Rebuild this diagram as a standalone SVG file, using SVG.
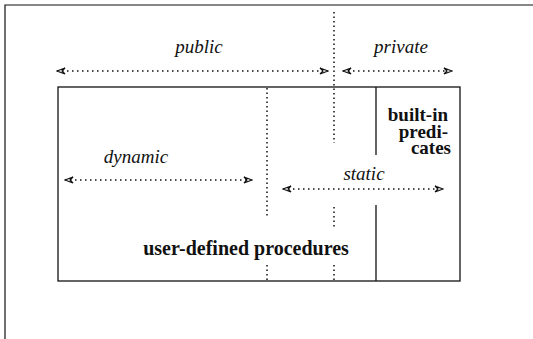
<svg xmlns="http://www.w3.org/2000/svg" width="533" height="339" viewBox="0 0 533 339">
  <defs>
    <marker id="head" viewBox="0 0 10 8" refX="9" refY="4" markerWidth="10" markerHeight="8" markerUnits="userSpaceOnUse" orient="auto-start-reverse">
      <path d="M1,1 L9,4 L1,7 L4,4 Z" fill="#fff" stroke="#111" stroke-width="1.2" stroke-linejoin="miter"/>
    </marker>
    <style>
      .frame { fill: none; stroke: #111; stroke-width: 1.2; }
      .solid { fill: none; stroke: #111; stroke-width: 1.3; }
      .dots { fill: none; stroke: #111; stroke-width: 1.5; stroke-dasharray: 1.5 3; }
      .arrow { fill: none; stroke: #111; stroke-width: 1.4; stroke-dasharray: 1.5 3.5; marker-start: url(#head); marker-end: url(#head); }
      .lbl { font-family: "Liberation Serif", "Times New Roman", serif; font-style: italic; font-size: 19px; fill: #111; text-anchor: middle; }
      .bold { font-family: "Liberation Serif", "Times New Roman", serif; font-weight: bold; font-size: 20px; fill: #111; }
      .pred { font-family: "Liberation Serif", "Times New Roman", serif; font-weight: bold; font-size: 19px; fill: #111; text-anchor: end; }
    </style>
  </defs>
  <rect width="533" height="339" fill="#fff"/>

  <!-- outer frame: top and left edges -->
  <path class="frame" d="M5,339 V5 H533"/>

  <!-- procedures box -->
  <g id="procedures">
    <rect class="solid" x="58" y="87" width="402" height="194"/>
    <text class="bold" x="246" y="255" text-anchor="middle">user-defined procedures</text>
  </g>

  <!-- built-in predicates partition -->
  <g id="builtins">
    <path class="solid" d="M376,87 V155 M376,205 V281"/>
    <text class="pred" x="448" y="121">built-in</text>
    <text class="pred" x="448" y="138">predi-</text>
    <text class="pred" x="451" y="154">cates</text>
  </g>

  <!-- dotted boundaries -->
  <g id="boundaries">
    <path class="dots" d="M334,12 V143 M334,207 V229 M334,265 V281"/>
    <path class="dots" d="M267,88 V218 M267,265 V281"/>
  </g>

  <!-- extent arrows -->
  <g id="connectors">
    <line class="arrow" x1="57" y1="71" x2="328" y2="71"/>
    <line class="arrow" x1="343" y1="71" x2="452" y2="71"/>
    <line class="arrow" x1="65" y1="180" x2="252" y2="180"/>
    <line class="arrow" x1="283" y1="189" x2="443" y2="189"/>
  </g>

  <g id="labels">
    <text class="lbl" x="199" y="53">public</text>
    <text class="lbl" x="401" y="53">private</text>
    <text class="lbl" x="136" y="163">dynamic</text>
    <text class="lbl" x="364" y="180">static</text>
  </g>
</svg>
